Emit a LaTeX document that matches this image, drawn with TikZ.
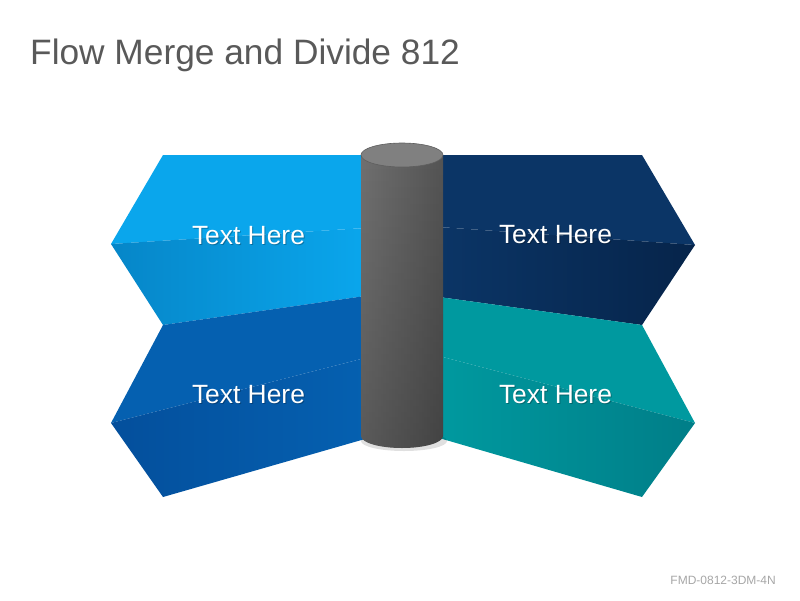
\documentclass[tikz,border=0pt]{standalone}
\usepackage{fontspec}
\setmainfont{Liberation Sans}
\usetikzlibrary{fadings}
\definecolor{skyA}{HTML}{0AA6EC}
\definecolor{skyB}{HTML}{0686C8}
\definecolor{royA}{HTML}{0560B0}
\definecolor{royB}{HTML}{044F9C}
\definecolor{navyA}{HTML}{0B3566}
\definecolor{navyB}{HTML}{06244A}
\definecolor{tealA}{HTML}{00999F}
\definecolor{tealB}{HTML}{007E88}
\definecolor{cylA}{HTML}{707070}
\definecolor{cylB}{HTML}{545454}
\definecolor{cylTop}{HTML}{808080}
\definecolor{cylEdge}{HTML}{5E5E5E}
\definecolor{titlegray}{HTML}{595959}
\definecolor{codegray}{HTML}{A6A6A6}
\begin{document}
\begin{tikzpicture}[x=1pt, y=-1pt, line join=round,
	tag/.style={text=white, inner sep=0, anchor=base, font=\fontsize{26.4}{30}\selectfont},
	tagshadow/.style={tag, text=black, opacity=0.25}]
	\useasboundingbox (0,0) rectangle (800,600);
	\node[anchor=base west, inner sep=0, text=titlegray, font=\fontsize{35.3}{40}\selectfont] (title) at (30,64) {Flow Merge and Divide 812};
	\node[anchor=base east, inner sep=0, text=codegray, font=\fontsize{12}{14}\selectfont] (code) at (776,584) {FMD-0812-3DM-4N};
	
	% left folds
	\fill[skyA] (163,155)--(365,155)--(365,228)--(111,244)--cycle;
	\shade[left color=skyB, right color=skyA] (111,244)--(365,228)--(365,296)--(163,325)--cycle;
	\fill[royA] (163,325)--(365,296)--(365,358)--(111,423)--cycle;
	\shade[left color=royB, right color=royA] (111,423)--(365,358)--(365,439)--(163,497)--cycle;
	
	% right folds
	\fill[navyA] (439,155)--(642,155)--(695,245)--(439,227)--cycle;
	\shade[left color=navyA, right color=navyB] (439,227)--(695,245)--(642,325)--(439,297)--cycle;
	\fill[tealA] (439,297)--(642,325)--(695,423)--(439,356)--cycle;
	\shade[left color=tealA, right color=tealB] (439,356)--(695,423)--(642,497)--(439,438)--cycle;
	
	% cylinder
	\fill[black, opacity=0.12] (404,441) ellipse[x radius=43, y radius=10];
	\shade[left color=cylA, right color=cylB] (361,155)--(361,436) arc[start angle=180, end angle=0, x radius=41, y radius=12]--(443,155)--cycle;
	\fill[black, opacity=0.2, path fading=north] (361,155)--(361,436) arc[start angle=180, end angle=0, x radius=41, y radius=12]--(443,155)--cycle;
	\draw[cylEdge, fill=cylTop, line width=0.6pt] (402,155) ellipse[x radius=41, y radius=12];
	
	\foreach \nm/\px/\py in {tl/248.5/244, bl/248.5/403, tr/555.5/243, br/555.5/403} {
		\node[tagshadow] (\nm s) at (\px+1,\py+1.5) {Text Here};
		\node[tag] (\nm) at (\px,\py) {Text Here};
	}
\end{tikzpicture}
\end{document}
